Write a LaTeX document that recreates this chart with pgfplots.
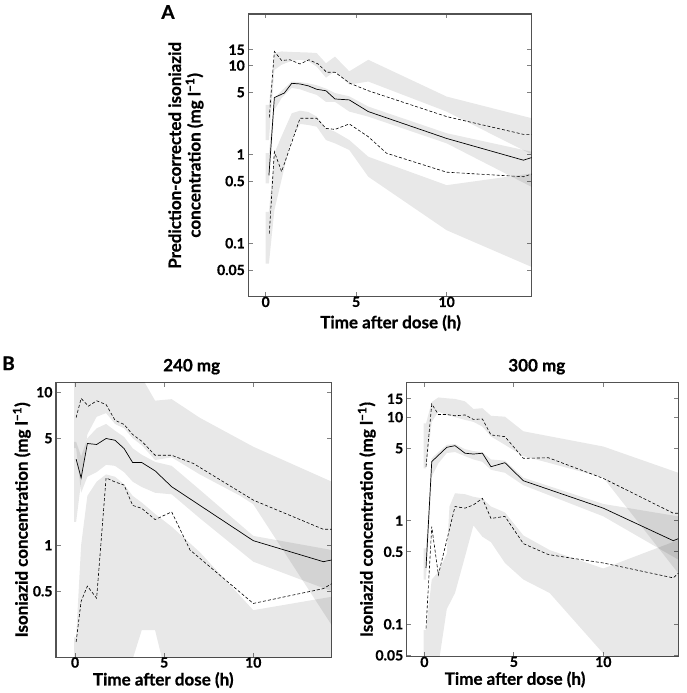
\documentclass[border=0pt]{standalone}
\usepackage{pgfplots}
\pgfplotsset{compat=1.18}
\usepackage{fontspec}
\setmainfont{Lato}[BoldFeatures={FakeBold=0.8}]
\newcommand\tickfont{\fontsize{14}{16}\selectfont\bfseries}
\newcommand\labfont{\fontsize{17}{19.5}\selectfont\bfseries}
\pgfplotsset{
  myaxis/.style={
    scale only axis, clip=true,
    axis line style={draw=black!68, line width=1.3pt},
    tick style={draw=black!50, line width=0.8pt},
    major tick length=4.5pt, tick align=inside,
    xtick={0,5,10}, xticklabels={0,5,10},
    ticklabel style={font=\tickfont},
    /pgf/number format/assume math mode=true,
    xticklabel style={yshift=3.5pt},
    label style={font=\labfont},
    title style={font=\labfont},
  },
}
\tikzset{
  myband/.style={draw=none, fill=black, fill opacity=0.09},
  mymed/.style={black, line width=0.7pt},
  mypct/.style={black, line width=0.6pt, dash pattern=on 3pt off 2pt},
}
\begin{document}
\begin{tikzpicture}
\useasboundingbox (0pt,0pt) rectangle (686pt,693pt);
% Panel A
\begin{axis}[myaxis, ymode=log, at={(248.3pt,396.3pt)}, anchor=south west,
  width=283.4pt, height=282.7pt,
  xmin=-0.96, xmax=14.7, ymin=0.025, ymax=38,
  ytick={0.05,0.1,0.5,1,5,10,15}, yticklabels={0.05,0.1,0.5,1,5,10,15},
  yminorticks=false,
  xlabel={Time after dose (h)},
  xlabel style={at={(axis description cs:0.502,-0.093)}, anchor=center},
  ylabel={Prediction-corrected isoniazid\\concentration (mg l\textsuperscript{−1})},
  ylabel style={at={(axis description cs:-0.22,0.5)}, anchor=center, align=center},
]
\addplot[myband] coordinates {(0,3.6) (0.18,3.6) (0.48,13.8) (0.88,14.4) (1.44,14.2) (2.36,14) (2.82,13.8) (3.33,10.6) (3.83,12.6) (4.62,8.6) (5.67,11.6) (10,4.47) (14.7,2.55)
 (14.7,1.0) (10,3.03) (5.67,6.6) (4.62,6.1) (3.83,8.6) (3.33,7.3) (2.82,9.7) (2.36,11.2) (1.9,11.6) (1.44,11.3) (0.88,10.2) (0.48,8.9) (0.18,1.45) (0,1.45)};
\addplot[myband] coordinates {(0,1.03) (0.18,1.03) (0.48,4.3) (0.88,5.2) (1.44,6.6) (1.9,6.5) (2.36,6.3) (2.82,6.0) (3.33,5.5) (3.83,4.9) (4.62,4.5) (5.67,3.45) (10,1.73) (14.7,1.07)
 (14.7,0.43) (10,1.33) (5.67,2.66) (4.62,3.03) (3.83,3.9) (3.33,3.9) (2.82,4.67) (2.36,5.0) (1.9,5.4) (1.44,5.6) (0.88,4.3) (0.48,3.16) (0.18,0.47) (0,0.47)};
\addplot[myband] coordinates {(0,0.225) (0.18,0.225) (0.48,1.03) (0.88,1.6) (1.44,2.9) (1.9,3.1) (2.36,3.0) (2.82,2.66) (3.33,1.96) (3.83,1.8) (4.62,1.45) (5.67,0.94) (10,0.45) (14.7,0.61)
 (14.7,0.054) (10,0.14) (5.67,0.56) (4.62,1.12) (3.83,1.33) (3.33,1.45) (2.82,2.05) (2.36,2.14) (1.9,2.2) (1.42,1.45) (1.05,0.73) (0.48,0.235) (0.18,0.059) (0,0.059)};
\addplot[mymed] coordinates {(0.18,0.58) (0.48,4.36) (1.03,4.9) (1.44,6.3) (1.9,6.2) (2.36,5.9) (2.82,5.4) (3.33,5.2) (3.83,4.2) (4.62,4.1) (5.67,3.03) (10,1.51) (14.24,0.86) (14.7,0.92)};
\addplot[mypct] coordinates {(0.2,2.6) (0.48,14.4) (0.88,11.4) (1.34,11.6) (1.9,10.4) (2.39,11.6) (2.9,10.4) (3.37,8.4) (3.83,8.4) (4.66,6.3) (5.67,5.2) (10,2.66) (14.24,1.68) (14.7,1.68)};
\addplot[mypct] coordinates {(0.2,0.128) (0.48,1.07) (0.88,0.64) (1.9,2.55) (2.82,2.55) (3.33,1.96) (3.83,1.91) (4.62,2.2) (5.67,1.58) (6.68,1.03) (10,0.63) (14.24,0.56) (14.7,0.6)};
\end{axis}
% Panel B 240 mg
\begin{axis}[myaxis, ymode=log, at={(56pt,35.7pt)}, anchor=south west,
  width=275.7pt, height=275pt,
  xmin=-1.07, xmax=14.4, ymin=0.185, ymax=11.6,
  ytick={0.5,1,5,10}, yticklabels={0.5,1,5,10},
  yminorticks=false,
  title={240 mg},
  title style={at={(axis description cs:0.492,1.035)}, anchor=center},
  xlabel={Time after dose (h)},
  xlabel style={at={(axis description cs:0.389,-0.083)}, anchor=center},
  ylabel={Isoniazid concentration (mg l\textsuperscript{−1})},
  ylabel style={at={(axis description cs:-0.124,0.5)}, anchor=center},
]
\addplot[myband] coordinates {(-0.05,30) (3.5,14) (4.49,8.8) (5.42,9.0) (7,6.8) (10,4.4) (14.4,2.6)
 (14.4,0.3) (10,1.85) (9.27,2.1) (7,2.9) (5.42,3.75) (4.49,3.6) (3.74,4.5) (3.23,5.0) (2.75,5.8) (2.24,6.2) (1.74,7.3) (1.21,6.9) (0.69,5.3) (0.34,2.6) (0.06,1.42) (-0.05,1.42)};
\addplot[myband] coordinates {(-0.05,4.74) (0.06,4.74) (0.34,3.8) (0.69,5.0) (1.21,5.8) (1.74,6.2) (2.24,5.6) (2.75,5.1) (3.23,4.3) (3.74,3.9) (4.49,3.5) (5.42,3.3) (7,2.3) (10,1.15) (14.4,0.93)
 (14.4,0.5) (10,0.78) (7,1.5) (5.42,2.15) (4.49,2.2) (3.74,2.4) (3.23,2.6) (2.75,3.0) (2.24,3.3) (1.74,3.35) (1.21,3.0) (0.69,2.8) (0.34,2.2) (0.06,4.3) (-0.05,4.3)};
\addplot[myband] coordinates {(-0.05,0.25) (0.06,0.25) (0.34,1.0) (0.69,2.1) (1.21,2.6) (1.74,2.9) (2.24,2.8) (2.75,2.5) (3.23,2.1) (3.74,1.9) (4.49,1.6) (5.42,1.32) (7,0.9) (10,0.376) (14.4,0.46)
 (14.4,0.1) (5.42,0.1) (4.49,0.278) (3.74,0.278) (3.23,0.18) (2.75,0.1) (-0.05,0.1)};
\addplot[mymed] coordinates {(0.06,3.65) (0.34,2.75) (0.69,4.62) (1.21,4.55) (1.74,4.98) (2.24,4.85) (2.75,4.28) (3.23,3.47) (3.74,3.47) (4.49,3.06) (5.42,2.41) (10,1.07) (13.93,0.78) (14.4,0.8)};
\addplot[mypct] coordinates {(0.06,6.83) (0.34,9.1) (0.75,8.1) (1.21,8.78) (1.74,8.3) (2.24,6.56) (2.75,6.15) (3.23,5.29) (3.74,4.78) (4.49,3.87) (5.42,3.87) (6.64,3.42) (10,1.97) (13.93,1.27) (14.4,1.27)};
\addplot[mypct] coordinates {(0.06,0.233) (0.34,0.43) (0.69,0.54) (1.21,0.45) (1.74,2.75) (2.24,2.59) (2.75,2.47) (3.23,1.82) (3.74,1.74) (4.49,1.47) (5.42,1.65) (6.45,0.93) (10,0.416) (13.93,0.52) (14.4,0.56)};
\end{axis}
% Panel B 300 mg
\begin{axis}[myaxis, ymode=log, at={(406.7pt,36.3pt)}, anchor=south west,
  width=271.6pt, height=274.4pt,
  xmin=-0.99, xmax=14.19, ymin=0.0485, ymax=21.7,
  ytick={0.05,0.1,0.5,1,5,10,15}, yticklabels={0.05,0.1,0.5,1,5,10,15},
  yminorticks=false,
  title={300 mg},
  title style={at={(axis description cs:0.479,1.035)}, anchor=center},
  xlabel={Time after dose (h)},
  xlabel style={at={(axis description cs:0.399,-0.083)}, anchor=center},
  ylabel={Isoniazid concentration (mg l\textsuperscript{−1})},
  ylabel style={at={(axis description cs:-0.147,0.5)}, anchor=center},
]
\addplot[myband] coordinates {(-0.05,8.7) (0.09,8.7) (0.41,14) (0.78,15.5) (1.25,15.2) (1.71,15) (2.27,14.2) (2.74,12) (3.24,12.2) (3.72,10.3) (4.5,10.1) (5.53,7.3) (10,5.2) (14.19,2.9)
 (14.19,0.31) (10,2.6) (7,3.6) (5.53,4.2) (4.5,5.4) (3.72,6.5) (3.24,8.1) (2.74,9.0) (2.27,9.4) (1.71,10) (1.25,10.5) (0.78,11.3) (0.41,9) (0.09,3.2) (-0.05,3.2)};
\addplot[myband] coordinates {(-0.05,0.54) (0.09,0.54) (0.41,4.0) (0.78,4.6) (1.25,5.4) (1.71,5.5) (2.27,4.9) (2.74,4.7) (3.24,4.6) (3.72,3.9) (4.5,3.8) (5.53,2.6) (10,1.45) (14.19,1.1)
 (14.19,0.42) (10,1.1) (5.53,2.2) (4.5,2.9) (3.72,3.1) (3.24,3.7) (2.74,3.9) (2.27,4.2) (1.71,4.6) (1.25,4.5) (0.78,3.58) (0.41,2.66) (0.09,0.27) (-0.05,0.27)};
\addplot[myband] coordinates {(-0.05,0.088) (0.09,0.088) (0.41,0.27) (0.78,0.32) (1.25,0.48) (1.4,1.37) (1.71,1.84) (2.27,1.8) (2.74,1.7) (3.24,1.64) (3.72,1.37) (4.5,1.2) (5.53,0.72) (7,0.52) (10,0.345) (14.19,0.65)
 (14.19,0.01) (10,0.052) (7,0.2) (5.53,0.27) (4.5,0.39) (3.72,0.62) (3.24,0.7) (2.74,0.9) (2.27,0.45) (1.71,0.2) (1.25,0.14) (0.78,0.04) (0.41,0.03) (-0.05,0.03)};
\addplot[mymed] coordinates {(0.09,0.35) (0.41,3.72) (1.25,5.11) (1.71,5.3) (2.27,4.48) (2.74,4.4) (3.24,4.48) (3.72,3.32) (4.5,3.63) (5.53,2.43) (10,1.32) (13.91,0.64) (14.19,0.67)};
\addplot[mypct] coordinates {(0.09,3.32) (0.41,13.4) (0.78,10.6) (1.25,10.6) (1.71,10.3) (2.27,10.5) (2.74,9.5) (3.24,9.6) (3.72,6.73) (4.5,6.48) (5.53,4.0) (6.93,4.05) (10,2.56) (13.91,1.18) (14.19,1.18)};
\addplot[mypct] coordinates {(0.09,0.091) (0.41,0.875) (0.78,0.30) (1.71,1.37) (2.27,1.32) (2.74,1.42) (3.24,1.64) (3.72,1.05) (4.5,1.1) (5.53,0.6) (6.93,0.47) (10,0.39) (13.91,0.28) (14.19,0.31)};
\end{axis}
\node[font=\fontsize{19}{21}\selectfont\bfseries, anchor=center] at (168pt,681pt) {A};
\node[font=\fontsize{19}{21}\selectfont\bfseries, anchor=center] at (8.5pt,329.7pt) {B};
\end{tikzpicture}
\end{document}
